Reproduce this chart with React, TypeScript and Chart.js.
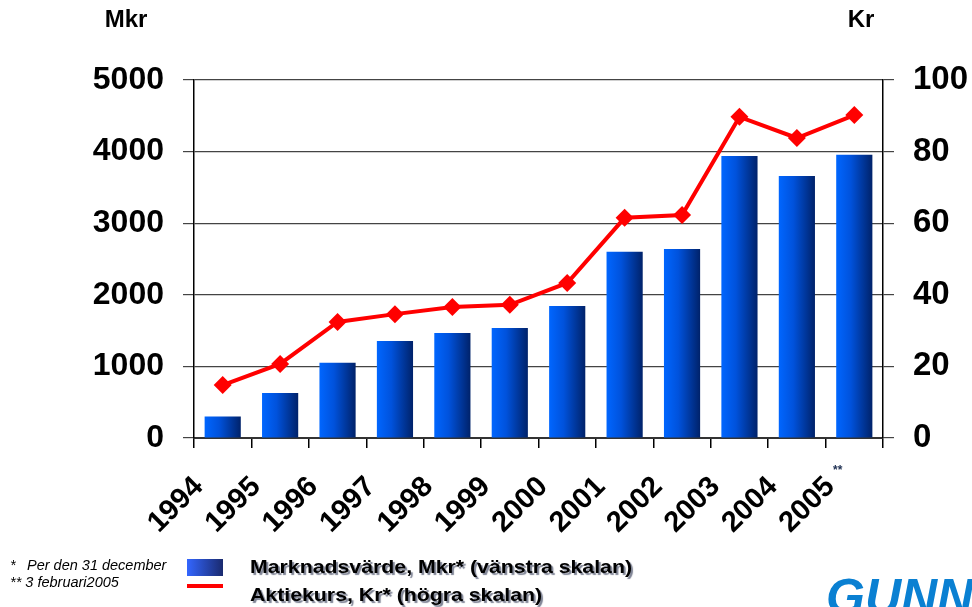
import React, { useEffect, useRef } from "react";
import { Chart, registerables } from "chart.js";

Chart.register(...registerables);

const years = ["1994", "1995", "1996", "1997", "1998", "1999", "2000", "2001", "2002", "2003", "2004", "2005"];
const marketValue = [300, 630, 1050, 1355, 1465, 1535, 1845, 2600, 2640, 3940, 3660, 3955];
const sharePrice = [14.8, 20.7, 32.4, 34.6, 36.6, 37.2, 43.3, 61.5, 62.3, 89.7, 83.8, 90.2];
const leftTicks = [0, 1000, 2000, 3000, 4000, 5000];
const rightTicks = [0, 20, 40, 60, 80, 100];

const W = 972;
const H = 607;
const FONT = "'Liberation Sans', Arial, sans-serif";
const BAR_PCT = 0.63;

const barGradient = (c: any) => {
  const chart = c.chart;
  const xs = chart.scales && chart.scales.x;
  if (!xs || !chart.chartArea || c.dataIndex === undefined) return "#0050e0";
  const cx = xs.getPixelForValue(c.dataIndex);
  const w = (xs.width / years.length) * BAR_PCT;
  const g = chart.ctx.createLinearGradient(cx - w / 2, 0, cx + w / 2, 0);
  g.addColorStop(0, "#0066ff");
  g.addColorStop(0.4, "#0052dc");
  g.addColorStop(1, "#00226a");
  return g;
};

const stretchText = (ctx: any, text: string, x: number, y: number, sx: number) => {
  ctx.save();
  ctx.translate(x, y);
  ctx.scale(sx, 1);
  ctx.fillText(text, 0, 0);
  ctx.restore();
};

const extrasPlugin = {
  id: "extras",
  afterDraw(chart: any) {
    const ctx = chart.ctx;
    ctx.save();
    ctx.fillStyle = "#000";
    ctx.textBaseline = "alphabetic";
    ctx.font = `bold 24px ${FONT}`;
    ctx.textAlign = "center";
    ctx.fillText("Mkr", 126, 27);
    ctx.fillText("Kr", 861, 27);

    // ** after 2005
    ctx.font = `bold 12px ${FONT}`;
    ctx.fillStyle = "#223355";
    ctx.textAlign = "left";
    ctx.fillText("**", 833, 474);

    // footnotes
    ctx.fillStyle = "#000";
    ctx.font = `italic 14.5px ${FONT}`;
    ctx.fillText("*", 10, 570);
    ctx.fillText("Per den 31 december", 27, 570);
    ctx.fillText("** 3 februari2005", 10, 587);

    // legend
    const g = ctx.createLinearGradient(187, 0, 223, 0);
    g.addColorStop(0, "#3366ff");
    g.addColorStop(1, "#1a2a6e");
    ctx.fillStyle = g;
    ctx.fillRect(187, 559, 36, 17);
    ctx.fillStyle = "#ff0000";
    ctx.fillRect(187, 584, 36, 4);

    ctx.font = `bold 19px ${FONT}`;
    ctx.shadowColor = "rgba(20,30,60,0.55)";
    ctx.shadowOffsetX = 2;
    ctx.shadowOffsetY = 2;
    ctx.shadowBlur = 1;
    ctx.fillStyle = "#000";
    stretchText(ctx, "Marknadsvärde, Mkr* (vänstra skalan)", 250, 573, 1.12);
    stretchText(ctx, "Aktiekurs, Kr* (högra skalan)", 250, 601, 1.12);
    ctx.shadowColor = "transparent";

    // logo
    ctx.font = `bold italic 50px ${FONT}`;
    ctx.fillStyle = "#0a80d2";
    ctx.fillText("GUNNEBO", 826, 614);
    ctx.restore();
  },
};

export default function App() {
  const ref = useRef<HTMLCanvasElement>(null);
  useEffect(() => {
    document.body.style.margin = "0";
    const canvas = ref.current!;
    const chart = new Chart(canvas, {
      type: "bar",
      data: {
        labels: years,
        datasets: [
          {
            type: "line",
            label: "Aktiekurs, Kr* (högra skalan)",
            data: sharePrice,
            yAxisID: "y2",
            borderColor: "#ff0000",
            backgroundColor: "#ff0000",
            borderWidth: 4,
            pointStyle: "rectRot",
            pointRadius: 9,
            pointBackgroundColor: "#ff0000",
            pointBorderColor: "#ff0000",
            pointBorderWidth: 0,
            tension: 0,
            order: 1,
          } as any,
          {
            type: "bar",
            label: "Marknadsvärde, Mkr* (vänstra skalan)",
            data: marketValue,
            yAxisID: "y",
            backgroundColor: barGradient,
            borderWidth: 0,
            categoryPercentage: 1,
            barPercentage: BAR_PCT,
            order: 2,
          },
        ],
      },
      options: {
        responsive: false,
        animation: false,
        devicePixelRatio: 1,
        layout: { padding: { top: 80, left: 0, right: 0, bottom: 0 } },
        plugins: { legend: { display: false }, tooltip: { enabled: false } },
        scales: {
          x: {
            offset: true,
            grid: { offset: true, drawOnChartArea: false, tickLength: 10, color: "#000", lineWidth: 1.5 },
            border: { color: "#333", width: 2 },
            ticks: {
              color: "#000",
              font: { family: FONT, size: 29, weight: "bold" },
              maxRotation: 45,
              minRotation: 45,
              autoSkip: false,
              padding: 22,
              labelOffset: -24,
            },
            afterFit: (s: any) => {
              s.height = 169;
            },
          },
          y: {
            position: "left",
            min: 0,
            max: 5000,
            afterBuildTicks: (s: any) => {
              s.ticks = leftTicks.map((v) => ({ value: v }));
            },
            grid: { color: "#444", lineWidth: 1.2, tickLength: 11 },
            border: { color: "#000", width: 1.5 },
            ticks: {
              color: "#000",
              font: { family: FONT, size: 32, weight: "bold" },
              padding: 19,
              callback: (v: any) => String(v),
            },
            afterFit: (s: any) => {
              s.width = 194;
            },
          },
          y2: {
            position: "right",
            min: 0,
            max: 100,
            afterBuildTicks: (s: any) => {
              s.ticks = rightTicks.map((v) => ({ value: v }));
            },
            grid: { drawOnChartArea: false, color: "#444", lineWidth: 1.2, tickLength: 11 },
            border: { color: "#000", width: 1.5 },
            ticks: {
              color: "#000",
              font: { family: FONT, size: 33, weight: "bold" },
              padding: 19,
              callback: (v: any) => String(v),
            },
            afterFit: (s: any) => {
              s.width = 89;
            },
          },
        },
      },
      plugins: [extrasPlugin],
    });
    return () => chart.destroy();
  }, []);
  return (
    <div style={{ position: "absolute", left: 0, top: 0, width: W, height: H, background: "#fff" }}>
      <canvas ref={ref} width={W} height={H} style={{ display: "block", width: W, height: H }} />
    </div>
  );
}
